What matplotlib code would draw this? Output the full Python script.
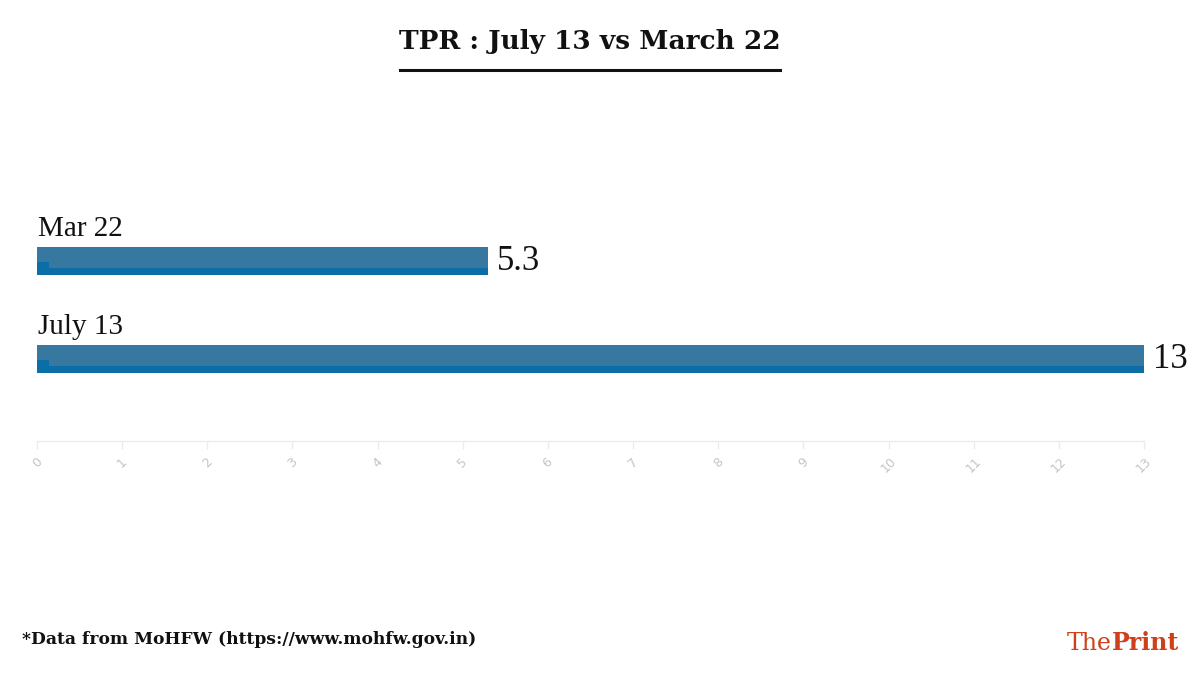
import matplotlib
matplotlib.use("Agg")
import matplotlib.pyplot as plt

# ---- data ----
categories = ["Mar 22", "July 13"]
values = [5.3, 13]
value_labels = ["5.3", "13"]
tick_values = list(range(0, 14))
tick_labels = [str(t) for t in tick_values]

title = "TPR : July 13 vs March 22"
footer = "*Data from MoHFW (https://www.mohfw.gov.in)"

W, H = 1200, 675
fig = plt.figure(figsize=(12, 6.75), dpi=100)
fig.patch.set_facecolor("white")

# axes: x 37..1144 px, y 200..441 px (from top)
ax_left, ax_right = 37, 1144
ax_top, ax_bottom = 200, 441
ax = fig.add_axes([ax_left / W, 1 - ax_bottom / H, (ax_right - ax_left) / W, (ax_bottom - ax_top) / H])
ax.set_xlim(0, 13)
ax.set_ylim(0, ax_bottom - ax_top)

bar_color = "#36789f"
strip_color = "#0b6ea7"
centers = [180, 82]   # layout positions (px from axes bottom)
bar_h = 28

for cat, v, lab, c in zip(categories, values, value_labels, centers):
    ax.barh(c, v, height=bar_h, color=bar_color, edgecolor="none", zorder=2)
    # darker bottom strip
    ax.barh(c - bar_h / 2 + 3.5, v, height=7, color=strip_color, edgecolor="none", zorder=3)
    # small square at left
    ax.barh(c - bar_h / 2 + 6.5, 0.14, height=13, color=strip_color, edgecolor="none", zorder=3)
    ax.text(0.01, c + bar_h / 2 + 5, cat, fontsize=21, family="Liberation Serif",
            color="#111111", ha="left", va="bottom")
    ax.text(v + 0.1, c - 1, lab, fontsize=25, family="Liberation Serif",
            color="#111111", ha="left", va="center")

for s in ["top", "right", "left"]:
    ax.spines[s].set_visible(False)
ax.spines["bottom"].set_color("#ececec")
ax.spines["bottom"].set_linewidth(1)
ax.set_yticks([])
ax.set_xticks(tick_values)
ax.set_xticklabels(tick_labels, rotation=45, ha="center", va="top",
                   fontsize=9, color="#c4c4c4", family="DejaVu Sans")
ax.tick_params(axis="x", length=6, width=1, color="#ececec", pad=4)
ax.patch.set_alpha(0)

# title
fig.text(590 / W, 1 - 42 / H, title, fontsize=19, fontweight="bold",
         family="DejaVu Serif", ha="center", va="center", color="#111111")
fig.add_artist(plt.Line2D([400 / W, 780 / W], [1 - 69.5 / H, 1 - 69.5 / H],
                          color="#111111", linewidth=2.2))

# footer
fig.text(22 / W, 1 - 640 / H, footer, fontsize=12.3, fontweight="semibold",
         family="DejaVu Serif", ha="left", va="center", color="#111111")

# logo
t1 = fig.text(1067 / W, 1 - 643 / H, "The", fontsize=17, family="DejaVu Serif",
              ha="left", va="center", color="#cf3f1a")
fig.canvas.draw()
bb = t1.get_window_extent()
fig.text(bb.x1 / W, 1 - 643 / H, "Print", fontsize=17, family="DejaVu Serif",
         fontweight="bold", ha="left", va="center", color="#cf3f1a")

fig.savefig("out.png", dpi=100, facecolor="white")
